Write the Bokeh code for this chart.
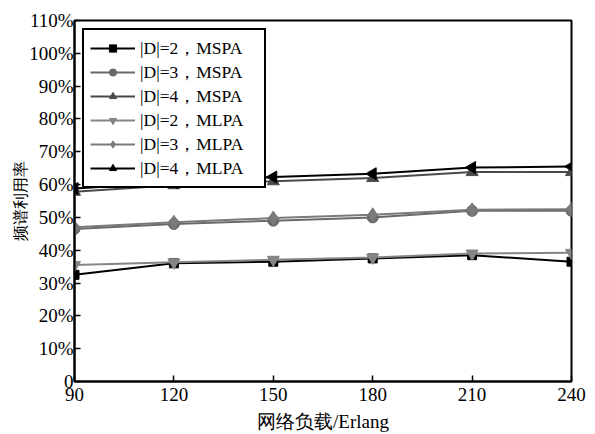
from bokeh.plotting import figure
from bokeh.models import FixedTicker, Legend, LegendItem, Range1d
from bokeh.embed import file_html
from bokeh.resources import INLINE

loads = [90, 120, 150, 180, 210, 240]
mspa_d2 = [32.5, 36.0, 36.5, 37.5, 38.5, 36.5]
mspa_d3 = [46.5, 48.0, 49.0, 50.0, 52.0, 52.0]
mspa_d4 = [57.8, 59.8, 61.0, 62.0, 63.8, 63.8]
mlpa_d2 = [35.5, 36.3, 37.1, 37.8, 39.0, 39.2]
mlpa_d3 = [47.0, 48.5, 49.8, 50.8, 52.3, 52.5]
mlpa_d4 = [58.8, 60.6, 62.3, 63.3, 65.2, 65.5]
labels = ["|D|=2，MSPA", "|D|=3，MSPA", "|D|=4，MSPA",
          "|D|=2，MLPA", "|D|=3，MLPA", "|D|=4，MLPA"]
y_ticks = list(range(0, 111, 10))
x_ticks = loads

FONT = "Times New Roman"

p = figure(width=595, height=434, output_backend="svg", toolbar_location=None,
           x_range=Range1d(90, 240), y_range=Range1d(0, 110),
           min_border_left=74, min_border_right=24, min_border_top=20, min_border_bottom=51)
p.grid.visible = False
p.outline_line_color = "black"
p.outline_line_width = 2
p.outline_line_alpha = 1.0
p.background_fill_color = "white"
p.border_fill_color = "white"

p.xaxis.ticker = FixedTicker(ticks=x_ticks)
p.yaxis.ticker = FixedTicker(ticks=y_ticks)
p.yaxis.major_label_overrides = {t: ("0" if t == 0 else f"{t}%") for t in y_ticks}
for ax in (p.xaxis[0], p.yaxis[0]):
    ax.major_tick_in = 6
    ax.major_tick_out = 0
    ax.minor_tick_in = 0
    ax.minor_tick_out = 0
    ax.axis_line_width = 2
    ax.major_tick_line_width = 1.5
    ax.major_label_text_font = FONT
    ax.major_label_text_font_size = "19px"
    ax.major_label_text_color = "black"
    ax.axis_label_text_font = FONT
    ax.axis_label_text_font_style = "normal"
    ax.axis_label_text_color = "black"
p.xaxis.axis_label_text_font_size = "19px"
p.yaxis.axis_label_text_font_size = "16px"
p.xaxis.major_label_standoff = 6
p.yaxis.major_label_standoff = 1
p.xaxis.axis_label = "网络负载/Erlang"
p.yaxis.axis_label = "频谱利用率"
p.xaxis.axis_label_standoff = 7
p.yaxis.axis_label_standoff = -3

series = [
    (mspa_d2, "#000000", "square", 9),
    (mspa_d3, "#6a6a6a", "circle", 11),
    (mspa_d4, "#4a4a4a", "triangle", 12),
    (mlpa_d2, "#858585", "inverted_triangle", 12),
    (mlpa_d3, "#7a7a7a", "diamond", 14),
    (mlpa_d4, "#000000", "triangle", 12),
]
items = []
for i, (vals, col, mk, sz) in enumerate(series):
    r1 = p.line(loads, vals, line_color=col, line_width=2)
    if i == 5:
        r2 = p.scatter(loads, vals, marker="triangle", angle=1.5708, size=sz,
                       fill_color=col, line_color=col)
    else:
        r2 = p.scatter(loads, vals, marker=mk, size=sz, fill_color=col, line_color=col)
    items.append(LegendItem(label=labels[i], renderers=[r1, r2]))

leg = Legend(items=items, location="top_left", margin=8,
             label_text_font=FONT, label_text_font_size="17.5px",
             label_text_color="black", glyph_width=45, glyph_height=18,
             label_height=18, label_width=118, spacing=0, padding=6, label_standoff=5,
             border_line_color="black", border_line_width=2, border_line_alpha=1.0,
             background_fill_alpha=1.0)
p.add_layout(leg)

open("out.html", "w").write(file_html(p, INLINE))
